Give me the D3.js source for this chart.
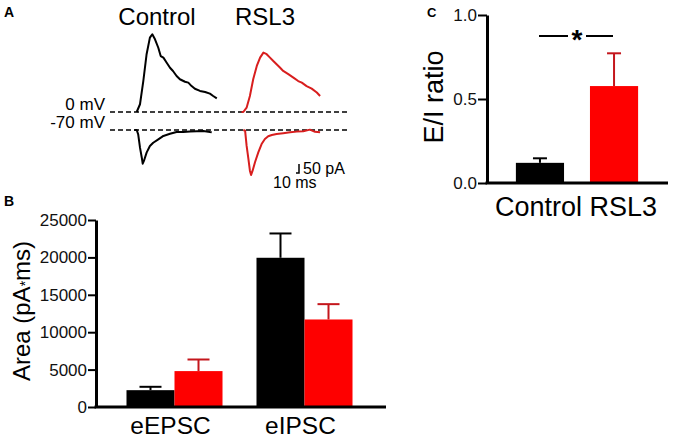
<!DOCTYPE html>
<html>
<head>
<meta charset="utf-8">
<script src="https://cdn.jsdelivr.net/npm/d3@7"></script>
<style>
  body { margin: 0; background: #fff; }
  svg { display: block; font-family: "Liberation Sans", Arial, sans-serif; }
</style>
</head>
<body>
<svg id="fig" width="680" height="443"></svg>
<script>
// ---- data ----
// panel A traces, [time ms, current pA], relative to stimulus onset
const controlIpsc = [[0,0],[11,43],[22,172],[33,321],[44,413],[52,432],[61,404],[72,357],[80,311],[89,302],[100,274],[111,246],[121,228],[133,200],[144,182],[161,168],[172,163],[183,144],[194,129],[211,117],[228,111],[244,102],[255,89],[267,76]];
const controlEpsc = [[-8,0],[0,0],[5,-24],[11,-98],[17,-154],[20,-187],[24,-172],[33,-126],[44,-89],[55,-71],[72,-52],[89,-33],[111,-21],[133,-11],[155,-11],[178,-9],[200,-7],[222,-6],[244,-11],[250,-12]];
const rsl3Ipsc = [[-6,0],[0,0],[11,24],[22,89],[33,182],[45,256],[56,302],[67,330],[78,321],[89,302],[100,283],[111,265],[122,247],[133,228],[150,210],[167,191],[183,172],[195,163],[211,144],[228,130],[245,108],[256,89]];
const rsl3Epsc = [[0,0],[6,-4],[11,-87],[17,-161],[22,-226],[26,-250],[31,-226],[39,-179],[50,-124],[61,-78],[72,-50],[83,-35],[95,-28],[111,-22],[133,-18],[156,-13],[178,-9],[200,-7],[222,2],[239,-10],[256,-12]];
const scaleBarMs = 10;
const scaleBarPa = 50;

// panel B
const currents = ["eEPSC", "eIPSC"];
const conditions = ["Control", "RSL3"];
const areaControl = [2250, 19950];
const areaControlSem = [450, 3250];
const areaRsl3 = [4800, 11700];
const areaRsl3Sem = [1550, 2050];
const areaTicks = [0, 5000, 10000, 15000, 20000, 25000];

// panel C
const eiRatio = [0.12, 0.577];
const eiRatioSem = [0.027, 0.195];
const ratioTicks = [0, 0.5, 1.0];

const colors = { Control: "#000", RSL3: "#fe0000" };
const errColors = { Control: "#000", RSL3: "#c4161c" };
const traceRed = "#d81e1e";

const svg = d3.select("#fig");

// ---- panel A ----
const pA = svg.append("g");
pA.append("text").attr("x", 4).attr("y", 17).attr("font-size", 14).attr("font-weight", "bold").text("A");
pA.append("text").attr("x", 157).attr("y", 25).attr("text-anchor", "middle").attr("font-size", 24).text("Control");
pA.append("text").attr("x", 265).attr("y", 25).attr("text-anchor", "middle").attr("font-size", 24).text("RSL3");

const base0 = 112, base70 = 130;
[base0, base70].forEach(function (y) {
  pA.append("line").attr("x1", 110).attr("x2", 350).attr("y1", y).attr("y2", y)
    .attr("stroke", "#000").attr("stroke-width", 1.6).attr("stroke-dasharray", "5,3");
});
pA.append("text").attr("x", 105).attr("y", 110).attr("text-anchor", "end").attr("font-size", 17).text("0 mV");
pA.append("text").attr("x", 105).attr("y", 128).attr("text-anchor", "end").attr("font-size", 17).text("-70 mV");

// 10 ms = 3 px, 50 pA = 9 px
function timeScale(x0) { return d3.scaleLinear().domain([0, 10]).range([x0, x0 + 3]); }
function currScale(y0) { return d3.scaleLinear().domain([0, 50]).range([y0, y0 - 9]); }

const xCtrl = timeScale(136.7), xRsl = timeScale(243.3);
const yOut = currScale(base0), yIn = currScale(base70);

function drawTrace(data, xs, ys, color) {
  const line = d3.line().x(d => xs(d[0])).y(d => ys(d[1]));
  pA.append("path").datum(data).attr("d", line).attr("fill", "none")
    .attr("stroke", color).attr("stroke-width", 2).attr("stroke-linejoin", "round");
}
drawTrace(controlIpsc, xCtrl, yOut, "#000");
drawTrace(controlEpsc, xCtrl, yIn, "#000");
drawTrace(rsl3Ipsc, xRsl, yOut, traceRed);
drawTrace(rsl3Epsc, xRsl, yIn, traceRed);

// scale bar
const xBar = d3.scaleLinear().domain([0, 10]).range([296, 299]);
const yBar = d3.scaleLinear().domain([0, 50]).range([173, 164]);
pA.append("path")
  .attr("d", `M${xBar(0)},${yBar(0)}H${xBar(scaleBarMs)}V${yBar(scaleBarPa)}`)
  .attr("fill", "none").attr("stroke", "#000").attr("stroke-width", 1.5);
pA.append("text").attr("x", 303).attr("y", 174).attr("font-size", 16).text(scaleBarPa + " pA");
pA.append("text").attr("x", 273).attr("y", 188).attr("font-size", 16).text(scaleBarMs + " ms");

// ---- panel B ----
const pB = svg.append("g");
pB.append("text").attr("x", 4).attr("y", 206).attr("font-size", 14).attr("font-weight", "bold").text("B");

const yB = d3.scaleLinear().domain([0, 25000]).range([407, 220]);
const xB = d3.scaleBand().domain(currents).range([109.5, 369.5]);
const xBsub = d3.scaleBand().domain(conditions).range([0, xB.bandwidth()]).paddingOuter(0.354);

const barsB = [];
currents.forEach(function (c, i) {
  barsB.push({ cur: c, cond: "Control", v: areaControl[i], e: areaControlSem[i] });
  barsB.push({ cur: c, cond: "RSL3", v: areaRsl3[i], e: areaRsl3Sem[i] });
});

pB.selectAll("line.errB").data(barsB).enter().append("line").attr("class", "errB")
  .attr("x1", d => xB(d.cur) + xBsub(d.cond) + xBsub.bandwidth() / 2)
  .attr("x2", d => xB(d.cur) + xBsub(d.cond) + xBsub.bandwidth() / 2)
  .attr("y1", d => yB(d.v)).attr("y2", d => yB(d.v + d.e))
  .attr("stroke", d => errColors[d.cond]).attr("stroke-width", 2);
pB.selectAll("line.capB").data(barsB).enter().append("line").attr("class", "capB")
  .attr("x1", d => xB(d.cur) + xBsub(d.cond) + xBsub.bandwidth() / 2 - 11)
  .attr("x2", d => xB(d.cur) + xBsub(d.cond) + xBsub.bandwidth() / 2 + 11)
  .attr("y1", d => yB(d.v + d.e)).attr("y2", d => yB(d.v + d.e))
  .attr("stroke", d => errColors[d.cond]).attr("stroke-width", 2);
pB.selectAll("rect").data(barsB).enter().append("rect")
  .attr("x", d => xB(d.cur) + xBsub(d.cond))
  .attr("width", xBsub.bandwidth())
  .attr("y", d => yB(d.v)).attr("height", d => yB(0) - yB(d.v))
  .attr("fill", d => colors[d.cond]);

const axB = pB.append("g").attr("transform", "translate(96,0)")
  .call(d3.axisLeft(yB).tickValues(areaTicks).tickSize(8).tickSizeOuter(0).tickPadding(1).tickFormat(d3.format("d")));
axB.select(".domain").attr("stroke-width", 3);
axB.selectAll(".tick line").attr("stroke-width", 2);
axB.selectAll(".tick text").attr("font-size", 17).attr("font-family", "Liberation Sans, Arial, sans-serif").attr("fill", "#111");
pB.append("line").attr("x1", 94.5).attr("x2", 386).attr("y1", yB(0)).attr("y2", yB(0))
  .attr("stroke", "#000").attr("stroke-width", 3);

pB.selectAll("text.xlab").data(currents).enter().append("text").attr("class", "xlab")
  .attr("x", d => xB(d) + xB.bandwidth() / 2 - 4).attr("y", 434)
  .attr("text-anchor", "middle").attr("font-size", 24.5).text(d => d);

const yLabB = pB.append("text").attr("transform", "translate(30,311) rotate(-90)")
  .attr("text-anchor", "middle").attr("font-size", 24);
yLabB.append("tspan").text("Area (pA");
yLabB.append("tspan").attr("font-size", 14).text("*");
yLabB.append("tspan").text("ms)");

// ---- panel C ----
const pC = svg.append("g");
pC.append("text").attr("x", 427).attr("y", 17).attr("font-size", 13).attr("font-weight", "bold").text("C");

const yC = d3.scaleLinear().domain([0, 1]).range([183, 15]);
const xC = d3.scaleBand().domain(conditions).range([487, 667]).paddingInner(0.35).paddingOuter(0.39);

const barsC = conditions.map((c, i) => ({ cond: c, v: eiRatio[i], e: eiRatioSem[i] }));
pC.selectAll("line.errC").data(barsC).enter().append("line").attr("class", "errC")
  .attr("x1", d => xC(d.cond) + xC.bandwidth() / 2).attr("x2", d => xC(d.cond) + xC.bandwidth() / 2)
  .attr("y1", d => yC(d.v)).attr("y2", d => yC(d.v + d.e))
  .attr("stroke", d => errColors[d.cond]).attr("stroke-width", 2);
pC.selectAll("line.capC").data(barsC).enter().append("line").attr("class", "capC")
  .attr("x1", d => xC(d.cond) + xC.bandwidth() / 2 - 7).attr("x2", d => xC(d.cond) + xC.bandwidth() / 2 + 7)
  .attr("y1", d => yC(d.v + d.e)).attr("y2", d => yC(d.v + d.e))
  .attr("stroke", d => errColors[d.cond]).attr("stroke-width", 2);
pC.selectAll("rect").data(barsC).enter().append("rect")
  .attr("x", d => xC(d.cond)).attr("width", xC.bandwidth())
  .attr("y", d => yC(d.v)).attr("height", d => yC(0) - yC(d.v))
  .attr("fill", d => colors[d.cond]);

const axC = pC.append("g").attr("transform", "translate(487,0)")
  .call(d3.axisLeft(yC).tickValues(ratioTicks).tickSize(9).tickSizeOuter(0).tickPadding(1).tickFormat(d3.format(".1f")));
axC.select(".domain").attr("stroke-width", 3);
axC.selectAll(".tick line").attr("stroke-width", 2);
axC.selectAll(".tick text").attr("font-size", 17).attr("font-family", "Liberation Sans, Arial, sans-serif").attr("fill", "#111");
pC.append("line").attr("x1", 485.5).attr("x2", 668).attr("y1", yC(0)).attr("y2", yC(0))
  .attr("stroke", "#000").attr("stroke-width", 3);

// category names sit as one line under the axis
pC.append("text").attr("x", 495).attr("y", 216).attr("font-size", 27)
  .text(conditions.join(" "));

pC.append("text").attr("transform", "translate(443,97) rotate(-90)")
  .attr("text-anchor", "middle").attr("font-size", 27).text("E/I ratio");

// significance
const sigY = 36;
const sigMid = (xC("Control") + xC("RSL3") + xC.bandwidth()) / 2;
pC.append("line").attr("x1", 539).attr("x2", sigMid - 9).attr("y1", sigY).attr("y2", sigY).attr("stroke", "#000").attr("stroke-width", 2);
pC.append("line").attr("x1", sigMid + 9).attr("x2", 613).attr("y1", sigY).attr("y2", sigY).attr("stroke", "#000").attr("stroke-width", 2);
pC.append("text").attr("x", sigMid).attr("y", 49).attr("text-anchor", "middle")
  .attr("font-size", 28).attr("font-weight", "bold").text("*");
</script>
</body>
</html>
